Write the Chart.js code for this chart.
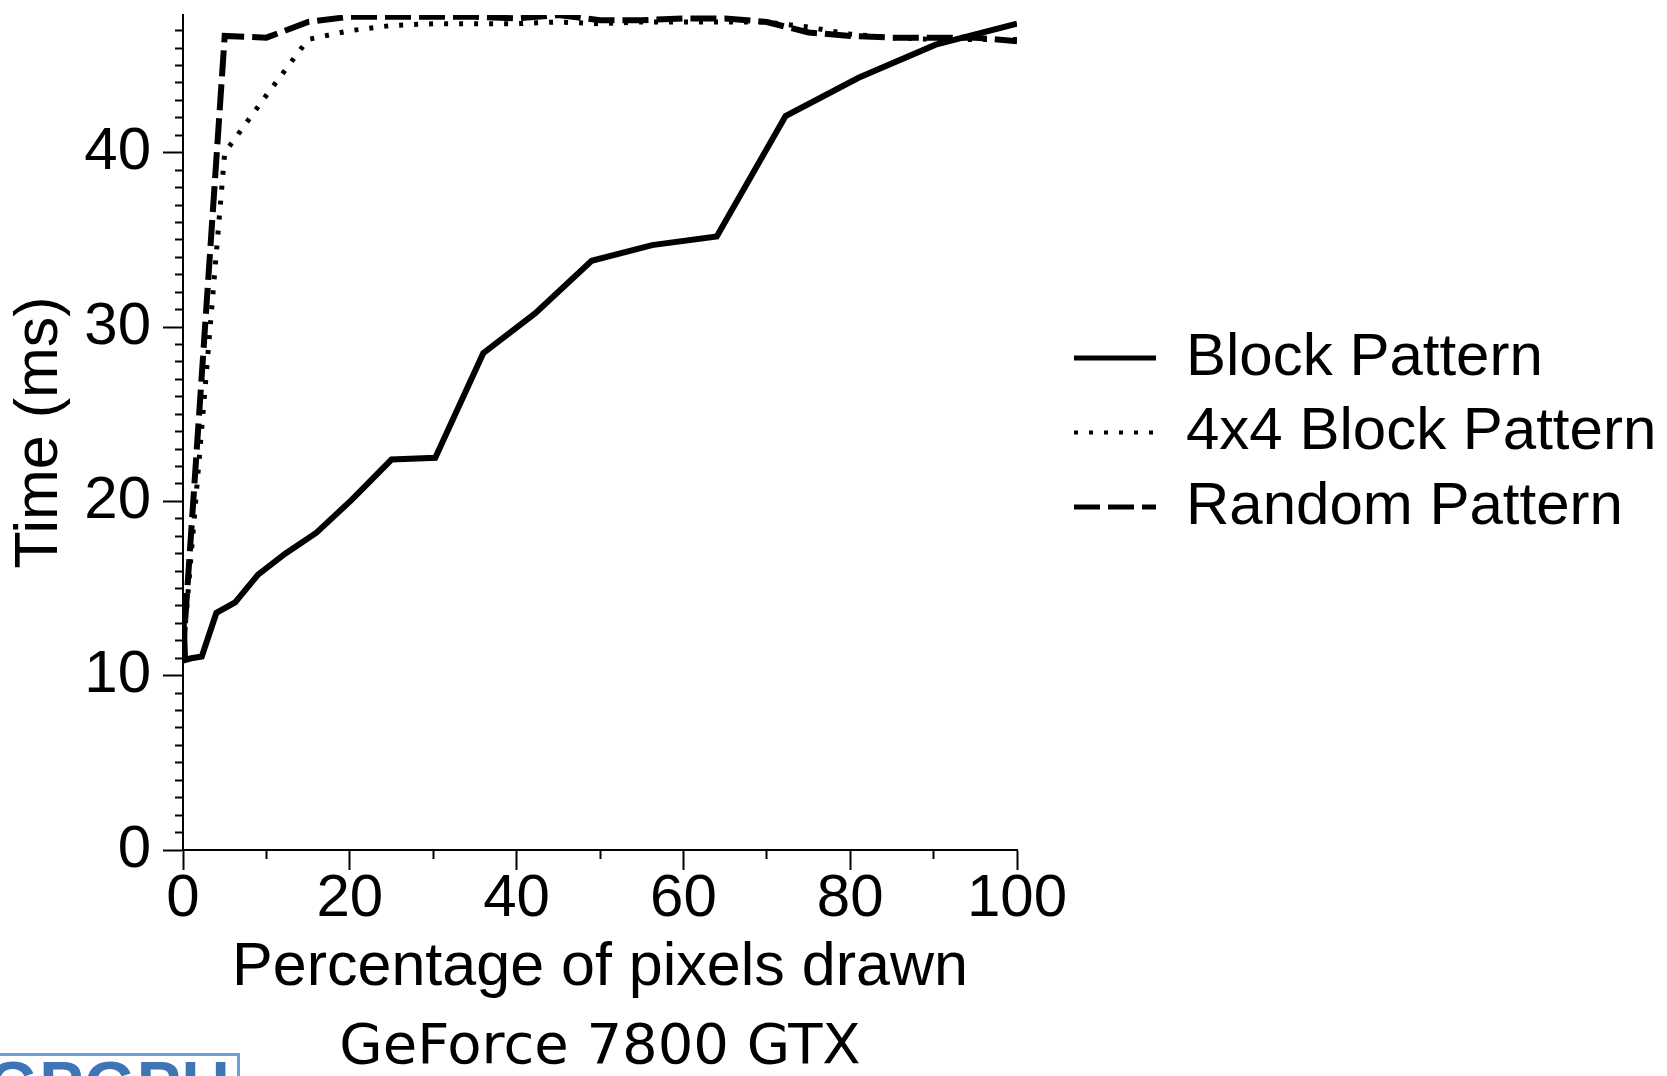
<!DOCTYPE html>
<html>
<head>
<meta charset="utf-8">
<script src="https://cdn.jsdelivr.net/npm/chart.js@4/dist/chart.umd.min.js"></script>
<style>
html,body{margin:0;padding:0;background:#fff;overflow:hidden}
#wrap{position:relative;width:1667px;height:1076px}
canvas{display:block}
#logo{position:absolute;left:-20px;top:1053px;width:260px;height:40px;border:3px solid #6f9fd8;box-sizing:border-box;overflow:hidden;background:#fff}
#logo span{position:absolute;left:4px;top:-4px;font:bold 66px 'Liberation Sans',sans-serif;color:#3f74b5;letter-spacing:1px;line-height:1}
</style>
</head>
<body>
<div id="wrap">
<canvas id="c" width="1667" height="1076"></canvas>
<div id="logo"><span>GPGPU</span></div>
</div>
<script>
// ---- data ----
const blockX    = [0, 0.25, 1, 2.25, 4, 6.25, 9, 12.25, 16, 20.25, 25, 30.25, 36, 42.25, 49, 56.25, 64, 72.25, 81, 90.25, 100];
const blockTime = [14.2, 10.9, 11.0, 11.1, 13.6, 14.2, 15.8, 17.0, 18.2, 20.1, 22.4, 22.5, 28.5, 30.8, 33.8, 34.7, 35.2, 42.1, 44.3, 46.2, 47.4];

const patternX   = [0, 5, 10, 15, 20, 25, 30, 35, 40, 45, 50, 55, 60, 65, 70, 75, 80, 85, 90, 95, 100];
const block4Time = [11.3, 40.0, 43.3, 46.5, 47.0, 47.3, 47.4, 47.4, 47.4, 47.5, 47.4, 47.5, 47.5, 47.5, 47.5, 47.2, 46.8, 46.6, 46.5, 46.5, 46.5];
const randomTime = [11.3, 46.7, 46.6, 47.5, 47.8, 47.8, 47.8, 47.8, 47.7, 47.9, 47.6, 47.6, 47.7, 47.7, 47.5, 46.9, 46.7, 46.6, 46.6, 46.6, 46.4];

const seriesNames = ['Block Pattern', '4x4 Block Pattern', 'Random Pattern'];
const xMajorTicks = [0, 20, 40, 60, 80, 100];
const yMajorTicks = [0, 10, 20, 30, 40];
const xTitle = 'Percentage of pixels drawn';
const yTitle = 'Time (ms)';
const chartTitle = 'GeForce 7800 GTX';

// ---- layout constants ----
const LEGEND_W = 607.5;
const FONT = 'Liberation Sans';

const pts = (xs, ys) => xs.map((x, i) => ({x: x, y: ys[i]}));

const legendWidthPlugin = {
  id: 'legendWidth',
  beforeUpdate(chart) {
    const lg = chart.legend;
    if (lg && !lg._patched) {
      const orig = lg.fit;
      lg.fit = function() { orig.call(this); this.width = LEGEND_W; };
      lg._patched = true;
    }
  }
};

const isMajor = (list) => (c) => c && c.tick && list.includes(c.tick.value);

new Chart(document.getElementById('c').getContext('2d'), {
  type: 'line',
  data: {
    datasets: [
      { label: seriesNames[0], data: pts(blockX, blockTime), yAxisID: 'y', xAxisID: 'x',
        borderColor: '#000', backgroundColor: '#000', borderWidth: 6, borderDash: [],
        pointRadius: 0, pointStyle: 'line', tension: 0, fill: false },
      { label: seriesNames[1], data: pts(patternX, block4Time), yAxisID: 'y', xAxisID: 'x',
        borderColor: '#000', backgroundColor: '#000', borderWidth: 5, borderDash: [4, 11],
        pointRadius: 0, pointStyle: 'line', tension: 0, fill: false },
      { label: seriesNames[2], data: pts(patternX, randomTime), yAxisID: 'y', xAxisID: 'x',
        borderColor: '#000', backgroundColor: '#000', borderWidth: 6, borderDash: [26, 8],
        pointRadius: 0, pointStyle: 'line', tension: 0, fill: false }
    ]
  },
  options: {
    responsive: false,
    animation: false,
    devicePixelRatio: 1,
    layout: { padding: { top: 15, right: 0, bottom: 0, left: 0 } },
    plugins: {
      tooltip: { enabled: false },
      legend: {
        position: 'right',
        align: 'center',
        fullSize: false,
        labels: {
          usePointStyle: true,
          pointStyleWidth: 82,
          padding: 14.5,
          color: '#000',
          font: { family: FONT, size: 60, lineHeight: 1 },
          generateLabels(chart) {
            const items = Chart.defaults.plugins.legend.labels.generateLabels(chart);
            items.forEach(it => {
              const ds = chart.data.datasets[it.datasetIndex];
              it.lineDash = ds.borderDash;
              it.lineWidth = ds.borderWidth - 1;
              it.strokeStyle = '#000';
              it.pointStyle = 'line';
              it.lineCap = 'butt';
            });
            return items;
          }
        }
      },
      title: {
        display: true,
        position: 'bottom',
        fullSize: false,
        text: chartTitle,
        color: '#000',
        font: { family: 'DejaVu Sans', size: 56, weight: 'normal', lineHeight: 1 },
        padding: { top: 9, bottom: 0 }
      }
    },
    scales: {
      x: {
        type: 'linear', min: 0, max: 100, bounds: 'data',
        border: { display: true, color: '#000', width: 2 },
        grid: {
          display: true, drawOnChartArea: false, drawTicks: true,
          tickLength: 20, tickColor: '#000', tickWidth: 2,
          tickBorderDash: c => isMajor(xMajorTicks)(c) ? [] : [8, 12],
          tickBorderDashOffset: 0
        },
        ticks: {
          stepSize: 10, autoSkip: false, maxRotation: 0, minRotation: 0, padding: -1,
          color: '#000', font: { family: FONT, size: 60, lineHeight: 1 },
          callback: v => xMajorTicks.includes(v) ? String(v) : ''
        },
        title: {
          display: true, text: xTitle, color: '#000',
          font: { family: FONT, size: 61, lineHeight: 1 },
          padding: { top: 0, bottom: 12.5 }
        },
        afterFit: s => { s.height = 161; }
      },
      y: {
        type: 'linear', min: 0, max: 47.9, bounds: 'data', position: 'left',
        border: { display: true, color: '#000', width: 2 },
        grid: {
          display: true, drawOnChartArea: false, drawTicks: true,
          tickLength: 20, tickColor: '#000', tickWidth: 2,
          tickBorderDash: c => isMajor(yMajorTicks)(c) ? [] : [8, 12],
          tickBorderDashOffset: c => isMajor(yMajorTicks)(c) ? 0 : 8
        },
        ticks: {
          stepSize: 1, autoSkip: false, includeBounds: false, maxTicksLimit: 100, padding: 12,
          color: '#000', font: { family: FONT, size: 60, lineHeight: 1 },
          callback: v => yMajorTicks.includes(v) ? String(v) : ''
        },
        title: {
          display: true, text: yTitle, color: '#000',
          font: { family: FONT, size: 61, lineHeight: 1 },
          padding: { top: 10, bottom: 0 }
        },
        afterFit: s => { s.width = 183; s.paddingTop = 0; s.paddingBottom = 0; }
      },
      yR: {
        type: 'linear', position: 'right', display: true,
        grid: { display: false, drawTicks: false },
        border: { display: false },
        ticks: { display: false },
        afterFit: s => { s.width = 42.5; s.paddingTop = 0; s.paddingBottom = 0; }
      }
    }
  },
  plugins: [legendWidthPlugin]
});
</script>
</body>
</html>
